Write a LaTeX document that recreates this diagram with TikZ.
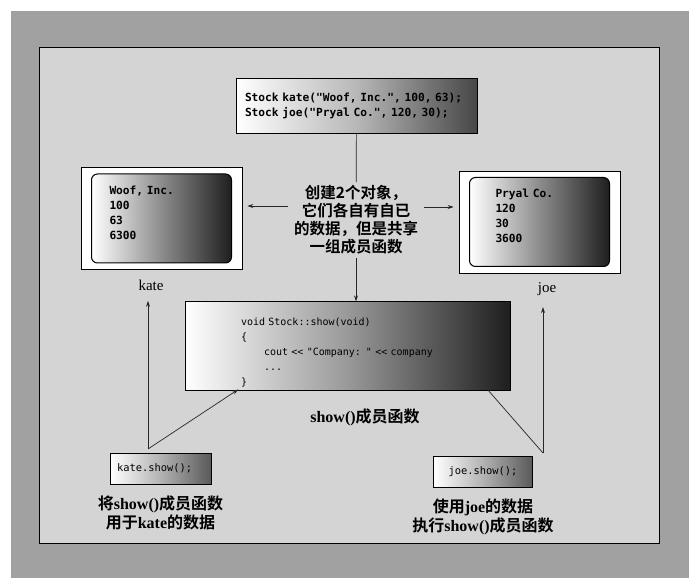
\documentclass[tikz,border=0pt]{standalone}
\usepackage{fontspec}
\setmainfont{Liberation Serif}
\setmonofont{DejaVu Sans Mono}[BoldFont={DejaVu Sans Mono Bold}]
\newfontfamily\cjk{Noto Sans CJK SC}[BoldFont={Noto Sans CJK SC Bold}]
\usetikzlibrary{arrows.meta,positioning}
\newcommand{\zh}[1]{{\cjk\bfseries #1}}
\newcommand{\lift}{\rule[-12pt]{0pt}{12pt}}
\newcommand{\drop}{\rule{0pt}{20pt}}
\tikzset{
    framebox/.style={rectangle,draw,fill=white,line width=0.8pt,minimum width=161pt,minimum height=102pt},
    objbox/.style={rectangle,draw,rounded corners=6pt,line width=1pt,align=left,minimum height=89pt,
        left color=white,right color=black!88,middle color=black!45,
        font=\fontsize{11.2}{15}\selectfont\ttfamily\bfseries},
    topcode/.style={rectangle,draw,line width=0.8pt,align=left,inner xsep=9pt,text width=223pt,minimum height=55pt,
        left color=white,right color=black!72,middle color=black!28,
        font=\fontsize{11.2}{15}\selectfont\ttfamily\bfseries},
    showcode/.style={rectangle,draw,line width=0.8pt,align=left,inner xsep=56pt,text width=213pt,minimum height=86pt,
        left color=white,right color=black!88,middle color=black!40,
        font=\fontsize{10}{15}\selectfont\ttfamily},
    callbox/.style={rectangle,draw,line width=0.8pt,minimum width=99pt,minimum height=31pt,
        left color=white,right color=black!65,middle color=black!30,
        font=\fontsize{10.4}{12}\selectfont\ttfamily},
    objlabel/.style={font=\fontsize{15}{18}\selectfont},
    notetext/.style={align=center,font=\fontsize{15.5}{18}\selectfont\bfseries},
    captext/.style={align=center,font=\fontsize{16}{19}\selectfont\bfseries},
    flowline/.style={-{Stealth[length=6pt,width=4pt]},line width=0.7pt,black!85},
    plainline/.style={line width=0.7pt,black!85}
}
\begin{document}
\begin{tikzpicture}[x=1pt,y=-1pt,node distance=6pt]
    \useasboundingbox (0,0) rectangle (689,583);
    \fill[white] (0,0) rectangle (689,583);
    \fill[black!37] (11,11) rectangle (689,578);
    \draw[line width=1pt,fill=black!17] (39,48) rectangle (659,543);
    % objects and code
    \node[topcode] (decl) at (356.5,106) {Stock kate("Woof, Inc.", 100, 63);\\Stock joe("Pryal Co.", 120, 30);};
    \node[framebox] (kateframe) at (161.5,218.5) {};
    \node[objbox,inner xsep=18pt,text width=104pt] (kate) at (161.5,218.5) {Woof, Inc.\\100\\63\\6300\lift};
    \node[framebox] (joeframe) at (539.5,222) {};
    \node[objbox,inner xsep=26pt,text width=88pt] (joe) at (539.5,222) {Pryal Co.\\120\\30\\3600\lift};
    \node[objlabel] (katelabel) at (151,285) {kate};
    \node[objlabel] (joelabel) at (547,289) {joe};
    \node[notetext] (note) at (356,220) {\zh{创建2个对象，}\\\zh{它们各自有自已}\\\zh{的数据，但是共享}\\\zh{一组成员函数}};
    \node[showcode] (showbox) at (347.5,346) {\drop void Stock::show(void)\\\{\\\hspace*{23pt}cout << "Company: " << company\\\hspace*{23pt}...\\\}};
    \node[captext] (showlabel) at (365,417) {show()\zh{成员函数}};
    \node[callbox,align=left,inner xsep=7pt,text width=87pt] (kateshow) at (160.5,468.5) {kate.show();};
    \node[callbox] (joeshow) at (483,471.5) {joe.show();};
    \node[captext,below=8pt of kateshow] (katecap) {\zh{将}show()\zh{成员函数}\\\zh{用于}kate\zh{的数据}};
    \node[captext,below=8pt of joeshow] (joecap) {\zh{使用}joe\zh{的数据}\\\zh{执行}show()\zh{成员函数}};
    % connectors
    \coordinate (splitl) at ([yshift=14pt]note.west);
    \coordinate (splitr) at ([yshift=13pt]note.east);
    \coordinate (katefork) at (148,449);
    \coordinate (joefork) at (543,453);
    \draw[plainline] (decl) -- (note);
    \draw[flowline,shorten <=2pt,shorten >=5pt] (splitl) -- (splitl -| kateframe.east);
    \draw[flowline,shorten <=2pt,shorten >=5pt] (splitr) -- (splitr -| joeframe.west);
    \draw[flowline] (note.south) -- (note.south |- showbox.north);
    \draw[flowline,shorten >=7pt] (katefork) -- (katefork |- katelabel.south);
    \draw[flowline,shorten >=-2pt] (katefork) -- ([xshift=52pt]showbox.south west);
    \draw[flowline,shorten >=8pt] (joefork) -- (joefork |- joelabel.south);
    \draw[plainline] (joefork) -- ([xshift=-22pt]showbox.south east);
\end{tikzpicture}
\end{document}
